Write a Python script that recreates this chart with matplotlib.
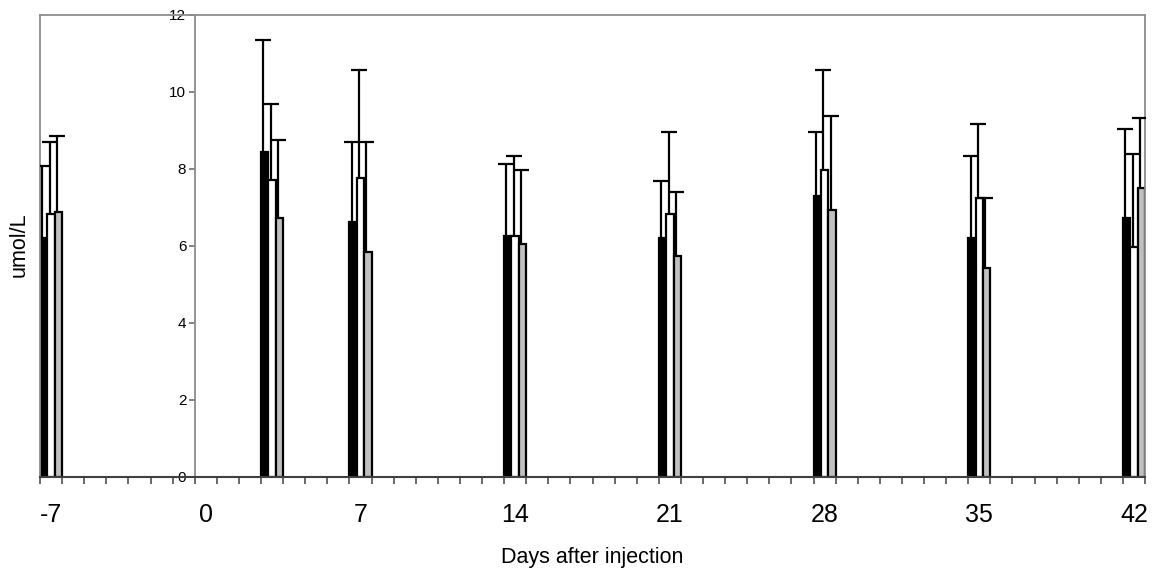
import numpy as np
import matplotlib
matplotlib.use("Agg")
import matplotlib.pyplot as plt

plt.rcParams['font.family'] = ['Liberation Sans', 'DejaVu Sans']

# ---- data ----
days = np.array([-7, 3, 7, 14, 21, 28, 35, 42])
black_mean = np.array([6.21, 8.44, 6.62, 6.25, 6.20, 7.30, 6.21, 6.72])
black_sd = np.array([1.86, 2.90, 2.06, 1.87, 1.49, 1.66, 2.11, 2.32])
white_mean = np.array([6.82, 7.70, 7.75, 6.25, 6.81, 7.95, 7.23, 5.97])
white_sd = np.array([1.88, 1.98, 2.81, 2.08, 2.13, 2.60, 1.93, 2.41])
gray_mean = np.array([6.88, 6.71, 5.83, 6.03, 5.73, 6.92, 5.41, 7.49])
gray_sd = np.array([1.96, 2.03, 2.85, 1.92, 1.66, 2.44, 1.82, 1.83])

day_first, day_last = -7, 42          # category range of the axis
tick_label_days = [-7, 0, 7, 14, 21, 28, 35, 42]
y_ticks = [0, 2, 4, 6, 8, 10, 12]
y_axis_day = 0                         # value axis crosses before this category

# ---- figure ----
W, H = 1152, 572
fig = plt.figure(figsize=(W / 100, H / 100), dpi=100)
ax = fig.add_axes([40 / W, 1 - 476.7 / H, (1145 - 40) / W, (476.7 - 14.5) / H])

xmin, xmax = day_first - 0.5, day_last + 0.5
ax.set_xlim(xmin, xmax)
ax.set_ylim(0, 12)

bw = 1 / 3
series = [
    (black_mean, black_sd, 'black'),
    (white_mean, white_sd, 'white'),
    (gray_mean, gray_sd, '#c0c0c0'),
]
for i, (m, sd, col) in enumerate(series):
    xs = days + (i - 1) * bw
    ax.bar(xs, m, width=bw, color=col, edgecolor='black', linewidth=1.6, zorder=2)
for i, (m, sd, col) in enumerate(series):
    xs = days + (i - 1) * bw - 0.06
    _, caps, _ = ax.errorbar(xs, m, yerr=[np.zeros_like(sd), sd], fmt='none', ecolor='black',
                             elinewidth=1.6, capsize=5.8, capthick=1.6, zorder=3)
    # plus-only error bars: drop the cap at the bar top
    caps[0].remove()

# frame
for s in ['top', 'right', 'left']:
    ax.spines[s].set_color('#8c8c8c')
    ax.spines[s].set_linewidth(1.3)
ax.spines['bottom'].set_color('#404040')
ax.spines['bottom'].set_linewidth(1.5)
ax.spines['bottom'].set_zorder(4)

# x axis: labels at category centres, tick marks at category boundaries
ax.set_xticks(tick_label_days)
ax.set_xticklabels([str(d) for d in tick_label_days], fontsize=18)
ax.tick_params(axis='x', which='major', length=0, pad=19)
ax.set_xticks(np.arange(xmin, xmax + 0.01, 1), minor=True)
ax.tick_params(axis='x', which='minor', length=5.2, width=1.1, color='#404040', direction='out')

# y axis: drawn where the value axis crosses (before day 0)
ax.tick_params(axis='y', left=False, labelleft=False, right=False)
cross = (y_axis_day - 0.5 - xmin) / (xmax - xmin)
sec = ax.secondary_yaxis(cross)
sec.set_yticks(y_ticks)
sec.set_yticklabels([str(v) for v in y_ticks], fontsize=11)
sec.spines['left'].set_color('#8c8c8c')
sec.spines['left'].set_linewidth(1.3)
sec.tick_params(axis='y', length=4, width=1.1, color='#606060', pad=2)

fig.text(19.5 / W, 1 - 245 / H, 'umol/L', rotation=90, ha='center', va='center', fontsize=15.5)
fig.text(592.5 / W, 1 - 557 / H, 'Days after injection', ha='center', va='center', fontsize=15.5)

fig.savefig('out.png', dpi=100)
